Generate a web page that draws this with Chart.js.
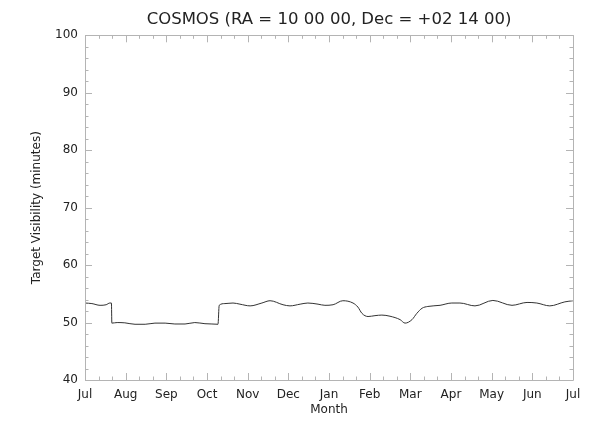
<!DOCTYPE html>
<html>
<head>
<meta charset="utf-8">
<script src="https://cdn.jsdelivr.net/npm/chart.js@4/dist/chart.umd.min.js"></script>
<style>
  html, body { margin: 0; padding: 0; background: #fff; }
  #wrap { width: 600px; height: 429px; position: relative; }
</style>
</head>
<body>
<div id="wrap"><canvas id="chart"></canvas></div>
<script>
// month labels for the x axis (Jul .. Jul)
const monthLabels = ['Jul', 'Aug', 'Sep', 'Oct', 'Nov', 'Dec', 'Jan', 'Feb', 'Mar', 'Apr', 'May', 'Jun', 'Jul'];

// position along the year, in months since Jul 1
const monthPos = [
  0.00, 0.17, 0.37, 0.52, 0.61, 0.65, 0.66, 0.79, 0.98, 1.23,
  1.48, 1.72, 1.97, 2.21, 2.46, 2.70, 2.95, 3.12, 3.27, 3.30,
  3.44, 3.64, 3.81, 4.06, 4.35, 4.55, 4.87, 5.04, 5.29, 5.48,
  5.73, 5.90, 6.10, 6.34, 6.59, 6.71, 6.81, 6.96, 7.13, 7.30,
  7.50, 7.75, 7.87, 8.04, 8.16, 8.29, 8.43, 8.73, 9.02, 9.22,
  9.59, 10.03, 10.50, 10.87, 11.11, 11.43, 11.80, 12.00
];

// target visibility, minutes per orbit
const visibility = [
  53.4, 53.3, 53.0, 53.1, 53.4, 53.4, 49.9, 50.0, 49.95, 49.7,
  49.7, 49.9, 49.9, 49.75, 49.75, 50.0, 49.8, 49.75, 49.7, 53.0,
  53.3, 53.4, 53.2, 52.9, 53.4, 53.8, 53.1, 52.9, 53.2, 53.4,
  53.2, 53.0, 53.1, 53.8, 53.4, 52.7, 51.6, 51.05, 51.2, 51.3,
  51.1, 50.5, 49.9, 50.5, 51.6, 52.5, 52.8, 53.0, 53.4, 53.4,
  52.9, 53.85, 53.0, 53.5, 53.4, 52.9, 53.6, 53.8
];

const yTicks = [40, 50, 60, 70, 80, 90, 100];

const axisColor = '#b4b4b4';
const textColor = '#222';
const fontFamily = "'DejaVu Sans', sans-serif";

// IDL style box with inward ticks on all four sides
const boxTicks = {
  id: 'boxTicks',
  afterDatasetsDraw(chart) {
    const { ctx, chartArea: a, scales } = chart;
    ctx.save();
    ctx.strokeStyle = axisColor;
    ctx.lineWidth = 1;
    ctx.beginPath();
    ctx.rect(Math.round(a.left) + 0.5, Math.round(a.top) + 0.5,
      Math.round(a.right - a.left), Math.round(a.bottom - a.top));
    scales.x.ticks.forEach((t, i) => {
      const px = Math.round(scales.x.getPixelForValue(t.value)) + 0.5;
      const len = i % 3 === 0 ? 7 : 3.5;
      ctx.moveTo(px, a.bottom); ctx.lineTo(px, a.bottom - len);
      ctx.moveTo(px, a.top); ctx.lineTo(px, a.top + len);
    });
    scales.y.ticks.forEach(t => {
      const py = Math.round(scales.y.getPixelForValue(t.value)) + 0.5;
      const len = t.value % 10 === 0 ? 7 : 3.5;
      ctx.moveTo(a.left, py); ctx.lineTo(a.left + len, py);
      ctx.moveTo(a.right, py); ctx.lineTo(a.right - len, py);
    });
    ctx.stroke();
    ctx.restore();
  }
};

new Chart(document.getElementById('chart').getContext('2d'), {
  type: 'line',
  data: {
    datasets: [{
      data: monthPos.map((m, i) => ({ x: m, y: visibility[i] })),
      borderColor: '#333',
      borderWidth: 1,
      pointRadius: 0,
      fill: false,
      cubicInterpolationMode: 'monotone'
    }]
  },
  options: {
    responsive: true,
    maintainAspectRatio: false,
    animation: false,
    devicePixelRatio: 1,
    layout: { padding: { left: 0, right: 27, top: 0, bottom: 0 } },
    scales: {
      x: {
        type: 'linear',
        min: 0,
        max: 12,
        afterBuildTicks: (s) => {
          s.ticks = Array.from({ length: 37 }, (_, i) => ({ value: i / 3 }));
        },
        afterFit: (s) => { s.height = 49; },
        grid: { display: true, drawOnChartArea: false, drawTicks: false, color: 'rgba(0,0,0,0)' },
        border: { display: false },
        ticks: {
          autoSkip: false,
          maxRotation: 0,
          padding: 8,
          color: textColor,
          font: { family: fontFamily, size: 12 },
          callback: (v) => {
            const r = Math.round(v);
            return Math.abs(v - r) < 1e-6 ? monthLabels[r] : '';
          }
        },
        title: {
          display: true,
          text: 'Month',
          color: textColor,
          font: { family: fontFamily, size: 12 },
          padding: { top: 12, bottom: 12 }
        }
      },
      y: {
        min: 40,
        max: 100,
        afterFit: (s) => { s.width = 85; },
        grid: { display: true, drawOnChartArea: false, drawTicks: false, color: 'rgba(0,0,0,0)' },
        border: { display: false },
        ticks: {
          stepSize: 2,
          autoSkip: false,
          padding: 7,
          color: textColor,
          font: { family: fontFamily, size: 12 },
          callback: (v) => yTicks.includes(v) ? String(v) : ''
        },
        title: {
          display: true,
          text: 'Target Visibility (minutes)',
          color: textColor,
          font: { family: fontFamily, size: 12 },
          padding: { top: 30, bottom: 30 }
        }
      }
    },
    plugins: {
      legend: { display: false },
      tooltip: { enabled: false },
      title: {
        display: true,
        fullSize: false,
        text: 'COSMOS (RA = 10 00 00, Dec = +02 14 00)',
        color: textColor,
        font: { family: fontFamily, size: 16.5, weight: 'normal' },
        padding: { top: 10, bottom: 5.5 }
      }
    }
  },
  plugins: [boxTicks]
});
</script>
</body>
</html>
